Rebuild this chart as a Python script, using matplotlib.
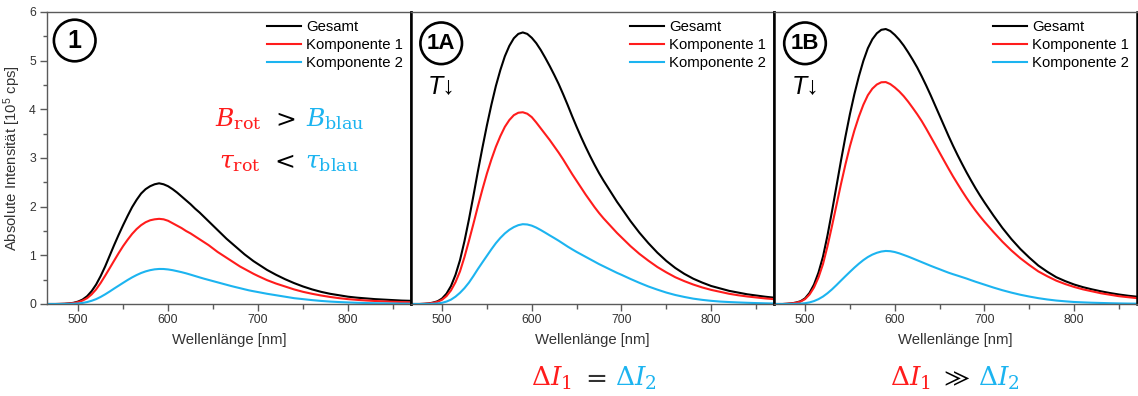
import matplotlib
matplotlib.use("Agg")
import matplotlib.pyplot as plt
from matplotlib.patches import Ellipse
from matplotlib.ticker import MultipleLocator, NullLocator
from matplotlib.offsetbox import TextArea, HPacker, AnnotationBbox

# ---------------------------------------------------------------- data
# 5 nm steps up to 695 nm, 10 nm steps in the tail
wavelength = list(range(460, 700, 5)) + list(range(700, 871, 10))

panel_ids = ["1", "1A", "1B"]
legend_labels = ["Gesamt", "Komponente 1", "Komponente 2"]
x_ticks = [500, 600, 700, 800]
y_ticks = [0, 1, 2, 3, 4, 5, 6]

# Panel 1
gesamt_1 = [0, 0, 0, 0, 0.002, 0.005, 0.012, 0.025, 0.05, 0.092,
            0.16, 0.264, 0.40, 0.573, 0.77, 0.99, 1.21, 1.42, 1.62, 1.81,
            1.99, 2.14, 2.27, 2.36, 2.42, 2.46, 2.48, 2.46, 2.42, 2.36,
            2.29, 2.21, 2.13, 2.05, 1.96, 1.88, 1.79, 1.70, 1.61, 1.52,
            1.43, 1.34, 1.26, 1.18, 1.10, 1.02, 0.95, 0.88,
            0.82, 0.70, 0.60, 0.51, 0.43, 0.36, 0.30, 0.25, 0.21, 0.18,
            0.15, 0.13, 0.115, 0.10, 0.09, 0.08, 0.07, 0.065]
komp1_1 = [0, 0, 0, 0, 0.002, 0.004, 0.01, 0.02, 0.04, 0.071,
           0.12, 0.198, 0.30, 0.432, 0.58, 0.734, 0.89, 1.044, 1.19, 1.32,
           1.44, 1.54, 1.62, 1.68, 1.72, 1.74, 1.75, 1.74, 1.71, 1.66,
           1.61, 1.56, 1.50, 1.45, 1.39, 1.33, 1.27, 1.21, 1.14, 1.07,
           1.01, 0.95, 0.89, 0.83, 0.77, 0.72, 0.67, 0.62,
           0.575, 0.49, 0.42, 0.36, 0.30, 0.25, 0.21, 0.175, 0.145, 0.12,
           0.10, 0.085, 0.072, 0.062, 0.053, 0.046, 0.040, 0.035]
komp2_1 = [0, 0, 0, 0, 0, 0.0005, 0.002, 0.005, 0.011, 0.022,
           0.04, 0.066, 0.10, 0.145, 0.198, 0.256, 0.317, 0.376, 0.435, 0.493,
           0.547, 0.595, 0.637, 0.670, 0.695, 0.712, 0.72, 0.719, 0.71, 0.695,
           0.675, 0.654, 0.63, 0.603, 0.575, 0.547, 0.52, 0.495, 0.47, 0.445,
           0.42, 0.395, 0.37, 0.347, 0.325, 0.302, 0.28, 0.262,
           0.245, 0.21, 0.18, 0.15, 0.12, 0.10, 0.08, 0.063, 0.05, 0.04,
           0.032, 0.025, 0.02, 0.016, 0.013, 0.01, 0.008, 0.006]

# Panel 1A
gesamt_2 = [0, 0, 0, 0, 0.004, 0.011, 0.029, 0.056, 0.112, 0.213,
            0.37, 0.599, 0.90, 1.291, 1.74, 2.226, 2.73, 3.211, 3.67, 4.094,
            4.48, 4.808, 5.09, 5.304, 5.46, 5.55, 5.58, 5.55, 5.47, 5.36,
            5.22, 5.06, 4.89, 4.71, 4.52, 4.31, 4.09, 3.86, 3.64, 3.43,
            3.23, 3.04, 2.86, 2.69, 2.535, 2.39, 2.245, 2.10,
            1.97, 1.705, 1.465, 1.25, 1.055, 0.885, 0.74, 0.62, 0.52, 0.44,
            0.37, 0.32, 0.27, 0.235, 0.20, 0.175, 0.15, 0.13]
komp1_2 = [0, 0, 0, 0, 0.004, 0.01, 0.024, 0.045, 0.087, 0.163,
           0.28, 0.448, 0.67, 0.965, 1.30, 1.65, 2.01, 2.355, 2.68, 2.97,
           3.23, 3.45, 3.64, 3.78, 3.88, 3.93, 3.94, 3.91, 3.84, 3.73,
           3.61, 3.49, 3.37, 3.24, 3.11, 2.97, 2.82, 2.67, 2.53, 2.39,
           2.25, 2.12, 1.99, 1.87, 1.76, 1.66, 1.56, 1.46,
           1.37, 1.19, 1.03, 0.89, 0.76, 0.65, 0.55, 0.47, 0.40, 0.34,
           0.29, 0.25, 0.21, 0.18, 0.155, 0.135, 0.115, 0.10]
komp2_2 = [0, 0, 0, 0, 0, 0.001, 0.005, 0.011, 0.025, 0.05,
           0.09, 0.151, 0.23, 0.326, 0.44, 0.576, 0.72, 0.856, 0.99, 1.124,
           1.25, 1.358, 1.45, 1.524, 1.58, 1.62, 1.64, 1.634, 1.61, 1.57,
           1.52, 1.466, 1.41, 1.356, 1.30, 1.24, 1.18, 1.124, 1.07, 1.02,
           0.97, 0.92, 0.87, 0.82, 0.775, 0.73, 0.685, 0.64,
           0.60, 0.515, 0.435, 0.36, 0.295, 0.235, 0.185, 0.145, 0.11, 0.085,
           0.065, 0.05, 0.04, 0.032, 0.025, 0.019, 0.014, 0.01]

# Panel 1B
gesamt_3 = [0, 0, 0, 0, 0.005, 0.013, 0.03, 0.057, 0.116, 0.228,
            0.40, 0.646, 0.973, 1.407, 1.90, 2.418, 2.94, 3.437, 3.90, 4.313,
            4.678, 4.996, 5.255, 5.439, 5.562, 5.634, 5.65, 5.61, 5.53, 5.43,
            5.31, 5.17, 5.02, 4.86, 4.68, 4.49, 4.29, 4.08, 3.87, 3.66,
            3.45, 3.25, 3.06, 2.88, 2.705, 2.54, 2.38, 2.23,
            2.088, 1.818, 1.563, 1.334, 1.13, 0.953, 0.79, 0.663, 0.551, 0.47,
            0.40, 0.345, 0.30, 0.26, 0.225, 0.195, 0.17, 0.15]
komp1_3 = [0, 0, 0, 0, 0.005, 0.012, 0.027, 0.05, 0.10, 0.195,
           0.34, 0.546, 0.82, 1.186, 1.60, 2.03, 2.46, 2.866, 3.24, 3.566,
           3.85, 4.094, 4.29, 4.424, 4.51, 4.556, 4.56, 4.519, 4.45, 4.368,
           4.27, 4.156, 4.03, 3.90, 3.76, 3.604, 3.44, 3.276, 3.11, 2.944,
           2.78, 2.62, 2.47, 2.322, 2.18, 2.046, 1.92, 1.802,
           1.69, 1.48, 1.28, 1.10, 0.94, 0.80, 0.67, 0.57, 0.48, 0.41,
           0.35, 0.30, 0.26, 0.22, 0.19, 0.16, 0.14, 0.12]
komp2_3 = [0, 0, 0, 0, 0, 0.001, 0.003, 0.007, 0.016, 0.033,
           0.06, 0.10, 0.153, 0.221, 0.30, 0.388, 0.48, 0.571, 0.66, 0.747,
           0.828, 0.902, 0.965, 1.015, 1.052, 1.078, 1.09, 1.085, 1.068, 1.041,
           1.008, 0.974, 0.937, 0.899, 0.861, 0.823, 0.785, 0.749, 0.714, 0.678,
           0.643, 0.612, 0.583, 0.553, 0.523, 0.49, 0.458, 0.428,
           0.398, 0.338, 0.283, 0.234, 0.19, 0.153, 0.12, 0.093, 0.071, 0.055,
           0.041, 0.033, 0.026, 0.021, 0.016, 0.012, 0.009, 0.007]

panels = [
    (gesamt_1, komp1_1, komp2_1),
    (gesamt_2, komp1_2, komp2_2),
    (gesamt_3, komp1_3, komp2_3),
]

# ---------------------------------------------------------------- style
BLACK = "#000000"
RED = "#ff1c1c"
BLUE = "#1cb4f0"
GREY = "#5a5a5a"
TXT = "#333333"
series_colors = [BLACK, RED, BLUE]

plt.rcParams["font.family"] = ["Liberation Sans", "DejaVu Sans"]

W, H = 1138, 396
fig = plt.figure(figsize=(W / 100, H / 100), dpi=100)


def axes_px(left, right, top, bottom):
    return fig.add_axes([left / W, 1 - bottom / H, (right - left) / W, (bottom - top) / H])


def fig_xy(x, y):
    return x / W, 1 - y / H


boxes = [(47, 411), (411, 774), (774, 1137)]
axes = []
for i, ((l, r), series) in enumerate(zip(boxes, panels)):
    ax = axes_px(l, r, 12, 304)
    axes.append(ax)
    for values, color, label in zip(series, series_colors, legend_labels):
        ax.plot(wavelength, values, color=color, lw=1.5, label=label,
                solid_joinstyle="round")
    ax.set_xlim(465.4, 870)
    ax.set_ylim(0, 6)

    for side in ("top", "bottom", "left", "right"):
        ax.spines[side].set_color(GREY)
        ax.spines[side].set_linewidth(1.0)
    if i > 0:
        ax.spines["left"].set_color(BLACK)
        ax.spines["left"].set_linewidth(1.8)
    ax.spines["right"].set_color(BLACK)
    ax.spines["right"].set_linewidth(1.8)

    ax.set_xticks(x_ticks)
    ax.xaxis.set_minor_locator(MultipleLocator(50))
    ax.tick_params(axis="x", which="major", direction="out", length=5, width=1,
                   color=GREY, labelsize=8.8, labelcolor=TXT, pad=2)
    ax.tick_params(axis="x", which="minor", direction="out", length=3.5, width=1,
                   color=GREY)
    ax.set_xlabel("Wellenlänge [nm]", fontsize=10.7, color=TXT, labelpad=5)

    if i == 0:
        ax.set_yticks(y_ticks)
        ax.yaxis.set_minor_locator(MultipleLocator(0.5))
        ax.tick_params(axis="y", which="major", direction="out", length=5, width=1,
                       color=GREY, labelsize=8.8, labelcolor=TXT, pad=3)
        ax.tick_params(axis="y", which="minor", direction="out", length=3, width=1,
                       color=GREY)
        ax.set_ylabel("Absolute Intensität [10$\\mathregular{^5}$ cps]",
                      fontsize=10.7, color=TXT, labelpad=4)
    else:
        ax.yaxis.set_major_locator(NullLocator())
        ax.yaxis.set_minor_locator(NullLocator())

    ax.legend(loc="upper right", frameon=False, fontsize=10.7,
              handlelength=2.3, handletextpad=0.35, labelspacing=0.28,
              borderpad=0.3, borderaxespad=0.25)

# ---------------------------------------------------------------- panel badges
badge_pos = [(74.7, 40.5, 18), (441.2, 43.3, 16), (805.0, 43.3, 16)]
R = 20.8
for pid, (cx, cy, fs) in zip(panel_ids, badge_pos):
    fig.add_artist(Ellipse(fig_xy(cx, cy), 2 * R / W, 2 * R / H,
                           transform=fig.transFigure, fill=False,
                           ec=BLACK, lw=1.9))
    fig.text(*fig_xy(cx, cy + 0.5), pid, ha="center", va="center",
             fontsize=fs, fontweight="bold", color=BLACK)

for cx in (441.5, 806.0):
    fig.text(*fig_xy(cx, 86), "T↓", ha="center", va="center", fontsize=18,
             fontstyle="italic", color=BLACK,
             family=["Liberation Sans", "DejaVu Sans"])


# ---------------------------------------------------------------- coloured formulas
def formula(cx, cy, pieces, size, sep):
    areas = [TextArea(s, textprops=dict(color=c, fontsize=size,
                                        math_fontfamily="dejavuserif"))
             for s, c in pieces]
    row = HPacker(children=areas, align="baseline", pad=0, sep=sep)
    fig.add_artist(AnnotationBbox(row, fig_xy(cx, cy), xycoords="figure fraction",
                                  frameon=False, box_alignment=(0.5, 0.5), pad=0))


formula(290, 119, [(r"$B_{\mathrm{rot}}$", RED), (r"$>$", BLACK),
                   (r"$B_{\mathrm{blau}}$", BLUE)], 18, 7)
formula(289, 162, [(r"$\tau_{\mathrm{rot}}$", RED), (r"$<$", BLACK),
                   (r"$\tau_{\mathrm{blau}}$", BLUE)], 18, 7)
formula(594, 378, [(r"$\Delta I_1$", RED), (r"$=$", TXT),
                   (r"$\Delta I_2$", BLUE)], 19, 6)
formula(955, 378, [(r"$\Delta I_1$", RED), (r"$\gg$", BLACK),
                   (r"$\Delta I_2$", BLUE)], 19, 6)

fig.savefig("out.png", dpi=100)
